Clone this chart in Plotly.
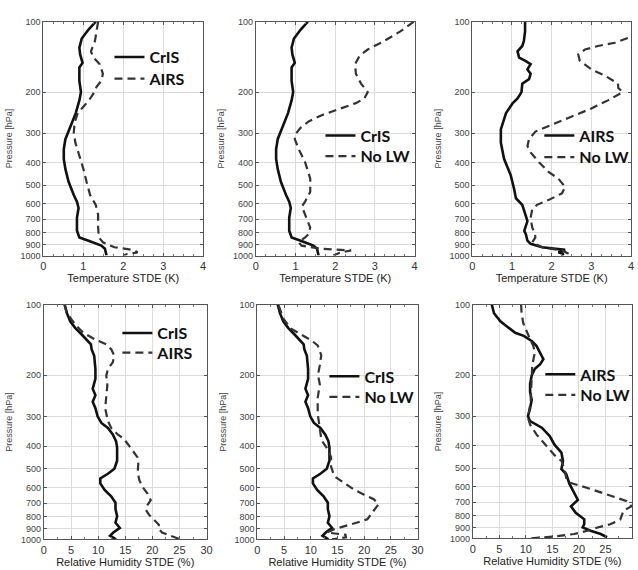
import plotly.graph_objects as go

# ---------------- DATA ----------------
PRESSURE_TICKS = [100, 200, 300, 400, 500, 600, 700, 800, 900, 1000]
T_TICKS = [0, 1, 2, 3, 4]
RH_TICKS = [0, 5, 10, 15, 20, 25, 30]

# Temperature STDE (K)
P_CRIS_T = [100, 108, 118, 129, 138, 150, 157, 179, 200, 217, 246, 280, 318, 351, 386, 426,
            484, 551, 588, 626, 689, 784, 837, 864, 907, 936, 1000]
CRIS_T = [1.31, 1.13, 0.96, 0.90, 0.92, 0.98, 0.90, 0.90, 0.94, 0.90, 0.81, 0.67, 0.55, 0.51,
          0.51, 0.55, 0.63, 0.76, 0.84, 0.88, 0.84, 0.84, 0.90, 1.13, 1.45, 1.54, 1.58]

P_AIRS_T_A = [100, 110, 121, 134, 142, 152, 167, 179, 190, 203, 217, 231, 246, 271, 299, 329,
              362, 426, 484, 551, 607, 669, 759, 837, 878, 922, 936, 951, 970, 985, 1000]
AIRS_T_A = [1.37, 1.33, 1.29, 1.19, 1.25, 1.41, 1.49, 1.45, 1.33, 1.25, 1.14, 1.00, 0.86, 0.78,
            0.76, 0.80, 0.88, 1.00, 1.08, 1.17, 1.31, 1.37, 1.37, 1.39, 1.49, 1.78, 2.07, 2.28,
            2.36, 2.10, 2.00]

P_NOLW_CRIS_T = [100, 110, 121, 131.5, 140, 152, 167, 184, 200, 213, 223, 235, 251, 267, 285,
                 304, 318, 351, 399, 469, 534, 588, 617, 669, 759, 810, 837, 878, 907, 936, 951,
                 975, 1000]
NOLW_CRIS_T = [3.98, 3.64, 3.23, 2.82, 2.61, 2.50, 2.52, 2.65, 2.82, 2.73, 2.52, 2.15, 1.66,
               1.33, 1.12, 0.99, 0.98, 1.08, 1.24, 1.37, 1.37, 1.24, 1.16, 1.24, 1.37, 1.33,
               1.24, 1.08, 1.15, 1.66, 2.40, 2.10, 1.95]

P_AIRS_T_B = [100, 110, 121, 127, 134, 142.5, 147, 152, 160, 167, 176, 184, 200, 213, 223, 246,
              289, 329, 386, 454, 516, 569, 607, 669, 712, 784, 810, 864, 891, 922, 946, 968,
              985, 1000]
AIRS_T_B = [1.33, 1.33, 1.30, 1.26, 1.14, 1.18, 1.34, 1.47, 1.39, 1.47, 1.43, 1.26, 1.24, 1.14,
            1.02, 0.85, 0.72, 0.72, 0.80, 0.97, 1.05, 1.10, 1.26, 1.34, 1.39, 1.31, 1.35, 1.39,
            1.47, 1.76, 2.34, 2.17, 2.30, 2.25]

P_NOLW_AIRS_T = [110, 117.5, 123, 127, 131.5, 138, 147, 160, 170, 184, 192, 200, 217, 235, 258,
                 280, 295, 318, 340, 362, 399, 440, 469, 509, 542, 578, 607, 636, 690, 759, 810,
                 837, 878, 922, 951, 1000]
NOLW_AIRS_T = [4.2, 3.92, 3.59, 3.17, 2.84, 2.67, 2.71, 3.00, 3.34, 3.67, 3.68, 3.79, 3.42,
               3.00, 2.42, 1.93, 1.59, 1.43, 1.39, 1.47, 1.68, 1.93, 2.17, 2.34, 2.26, 1.93,
               1.63, 1.51, 1.47, 1.51, 1.58, 1.59, 1.51, 1.76, 2.26, 2.51]

# Relative Humidity STDE (%)
P_CRIS_RH = [100, 108.7, 117.8, 125.6, 134, 140.6, 147.5, 154.8, 165, 188, 207, 228, 243, 259,
             276, 299, 319, 335, 357, 381, 406, 462, 500, 525, 550, 577, 615, 655, 697, 743,
             797, 849, 893, 934, 964, 1000]
CRIS_RH = [3.82, 4.24, 4.85, 5.76, 6.97, 7.88, 8.67, 8.79, 9.27, 9.5, 9.5, 9.0, 9.5, 9.0, 9.5,
           9.9, 10.6, 11.8, 12.7, 13.3, 13.5, 13.5, 13.0, 11.8, 10.4, 10.4, 11.2, 12.4, 13.2,
           13.2, 13.5, 13.2, 14.0, 12.8, 12.2, 13.3]

P_AIRS_RH_A = [100, 108.7, 116, 123.6, 131.8, 140.6, 147.5, 154.8, 165, 176, 188, 200.6, 220.5,
               243, 276, 313, 335, 357, 374, 393, 420, 448, 477, 517, 559, 598, 638, 680, 714,
               748, 786, 825, 866, 894, 934, 964, 1000]
AIRS_RH_A = [3.82, 4.24, 5.15, 6.06, 7.27, 9.39, 11.5, 12.4, 13.0, 12.7, 11.8, 11.5, 11.7, 11.5,
             11.3, 11.8, 12.4, 13.6, 14.8, 15.5, 16.4, 17.3, 17.4, 17.3, 17.6, 18.2, 19.1, 19.7,
             19.1, 18.8, 19.4, 20.3, 21.2, 21.0, 21.8, 23.3, 25.2]

P_NOLW_CRIS_RH = [101, 115, 127, 135, 142, 149, 164, 181, 199, 219, 249, 291, 333, 378, 404,
                  445, 489, 538, 575, 613, 643, 674, 707, 754, 820, 847, 875, 904, 934, 955,
                  980, 1000]
NOLW_CRIS_RH = [4.0, 4.9, 6.4, 8.3, 10.1, 11.3, 11.96, 11.7, 11.35, 11.7, 11.3, 11.3, 11.7,
                12.0, 12.9, 13.8, 13.8, 14.4, 16.3, 18.1, 19.9, 21.8, 22.7, 21.8, 20.6, 18.7,
                16.3, 14.4, 13.0, 16.5, 16.6, 14.0]

P_AIRS_RH_B = [100, 108.8, 117.9, 125.8, 132, 136, 143, 150, 160, 171, 179.6, 188, 201, 218,
               236, 256, 277, 300, 315, 336, 365, 397, 429, 466, 505, 530, 583, 642, 684, 729,
               777, 828, 869, 897, 927, 957, 988]
AIRS_RH_B = [3.58, 4.0, 5.2, 6.8, 8.0, 9.6, 11.1, 12.0, 12.7, 13.3, 12.7, 11.7, 11.1, 10.8,
             10.8, 11.1, 10.8, 10.4, 10.8, 13.0, 14.5, 15.4, 16.7, 17.0, 16.7, 17.6, 18.2, 19.1,
             19.8, 18.5, 19.4, 21.0, 21.0, 20.7, 22.2, 24.1, 25.3]

P_NOLW_AIRS_RH = [100, 108.8, 119.8, 129.9, 140.8, 150, 160, 182, 201, 229, 260, 305, 326, 359,
                  397, 440, 466, 505, 551, 579, 608, 649, 692, 729, 759, 829, 870, 898, 927, 957,
                  980, 1000]
NOLW_AIRS_RH = [9.1, 9.2, 9.5, 10.1, 10.8, 11.4, 11.7, 11.2, 11.1, 10.9, 10.9, 10.4, 10.8, 12.0,
                13.6, 15.4, 16.7, 17.3, 17.6, 18.5, 21.6, 25.3, 29.0, 29.9, 28.4, 27.8, 25.9,
                23.5, 21.6, 19.1, 15.4, 10.8]

# ---------------- FIGURE ----------------
W, H = 638, 570


def dom_x(a, b):
    return [a / W, b / W]


def dom_y(top, bottom):
    return [1 - bottom / H, 1 - top / H]


SOLID = dict(color="#111111", width=2.6)
DASH = dict(color="#333333", width=2.2, dash="8px,5px")

# legend: (left px of legend box, centre y px of first item, centre y px of second item)
panels = [
    dict(xd=(41, 203), yd=(17, 255), xr=[0, 4], xt=T_TICKS, mdt=0.25, xtitle="Temperature STDE (K)",
         series=[(P_CRIS_T, CRIS_T, SOLID, "CrIS"), (P_AIRS_T_A, AIRS_T_A, DASH, "AIRS")],
         leg=(108, 53, 75)),
    dict(xd=(256.5, 417.5), yd=(17, 255), xr=[0, 4], xt=T_TICKS, mdt=0.25, xtitle="Temperature STDE (K)",
         series=[(P_CRIS_T, CRIS_T, SOLID, "CrIS"), (P_NOLW_CRIS_T, NOLW_CRIS_T, DASH, "No LW")],
         leg=(322, 133, 154)),
    dict(xd=(476, 637), yd=(17, 255), xr=[0, 4], xt=T_TICKS, mdt=0.25, xtitle="Temperature STDE (K)",
         series=[(P_AIRS_T_B, AIRS_T_B, SOLID, "AIRS"), (P_NOLW_AIRS_T, NOLW_AIRS_T, DASH, "No LW")],
         leg=(544, 133, 155)),
    dict(xd=(41.5, 206.5), yd=(305, 544), xr=[0, 30], xt=RH_TICKS, mdt=2.5, xtitle="Relative Humidity STDE (%)",
         series=[(P_CRIS_RH, CRIS_RH, SOLID, "CrIS"), (P_AIRS_RH_A, AIRS_RH_A, DASH, "AIRS")],
         leg=(116, 334, 354)),
    dict(xd=(258, 420.5), yd=(305, 544), xr=[0, 30], xt=RH_TICKS, mdt=2.5, xtitle="Relative Humidity STDE (%)",
         series=[(P_CRIS_RH, CRIS_RH, SOLID, "CrIS"), (P_NOLW_CRIS_RH, NOLW_CRIS_RH, DASH, "No LW")],
         leg=(326, 378, 399)),
    dict(xd=(476.5, 638), yd=(305, 543), xr=[0, 30], xt=RH_TICKS, mdt=2.5, xtitle="Relative Humidity STDE (%)",
         series=[(P_AIRS_RH_B, AIRS_RH_B, SOLID, "AIRS"), (P_NOLW_AIRS_RH, NOLW_AIRS_RH, DASH, "No LW")],
         leg=(545, 376, 397)),
]

fig = go.Figure()
layout = dict(
    width=W, height=H, margin=dict(l=0, r=0, t=0, b=0),
    paper_bgcolor="white", plot_bgcolor="white", showlegend=True,
    font=dict(family="Liberation Sans, Arial, sans-serif", color="#333333"),
)

leg_n = 0
for i, pnl in enumerate(panels, start=1):
    xa = "x" if i == 1 else f"x{i}"
    ya = "y" if i == 1 else f"y{i}"
    lx, ly1, ly2 = pnl["leg"]
    for k, (p, v, ln, name) in enumerate(pnl["series"]):
        leg_n += 1
        lg = "legend" if leg_n == 1 else f"legend{leg_n}"
        fig.add_trace(go.Scatter(x=v, y=p, mode="lines", line=ln, name=name,
                                 xaxis=xa, yaxis=ya, legend=lg, cliponaxis=True))
        ly = ly1 if k == 0 else ly2
        layout[lg] = dict(
            x=lx / W, y=1 - ly / H, xanchor="left", yanchor="middle",
            bgcolor="rgba(255,255,255,0)", borderwidth=0,
            font=dict(family="Lato, Carlito, sans-serif", size=16, color="#111111", weight="bold"),
            itemwidth=30,
        )
    xkey = "xaxis" if i == 1 else f"xaxis{i}"
    ykey = "yaxis" if i == 1 else f"yaxis{i}"
    layout[xkey] = dict(
        domain=dom_x(*pnl["xd"]), anchor=ya, range=pnl["xr"], tickvals=pnl["xt"],
        ticktext=[str(t) for t in pnl["xt"]], showgrid=True, gridcolor="#dcdcdc", gridwidth=1,
        zeroline=False, showline=True, linecolor="#555555", linewidth=1, mirror="ticks",
        ticks="inside", ticklen=3, tickcolor="#555555",
        minor=dict(dtick=pnl["mdt"], tick0=0, ticks="inside", ticklen=2, tickcolor="#777777", showgrid=False),
        tickfont=dict(size=11, color="#333333"),
        title=dict(text=pnl["xtitle"], font=dict(size=11, color="#222222"), standoff=2),
        fixedrange=True,
    )
    layout[ykey] = dict(
        domain=dom_y(*pnl["yd"]), anchor=xa, type="log", range=[3, 2],
        tickvals=PRESSURE_TICKS, ticktext=[str(t) for t in PRESSURE_TICKS],
        showgrid=True, gridcolor="#dcdcdc", gridwidth=1, zeroline=False,
        showline=True, linecolor="#555555", linewidth=1, mirror="ticks",
        ticks="inside", ticklen=3, tickcolor="#555555",
        tickfont=dict(size=9, color="#444444"),
        title=dict(text="Pressure [hPa]", font=dict(size=9, color="#444444"), standoff=6),
        fixedrange=True,
    )

fig.update_layout(**layout)
fig.write_html("out.html")
